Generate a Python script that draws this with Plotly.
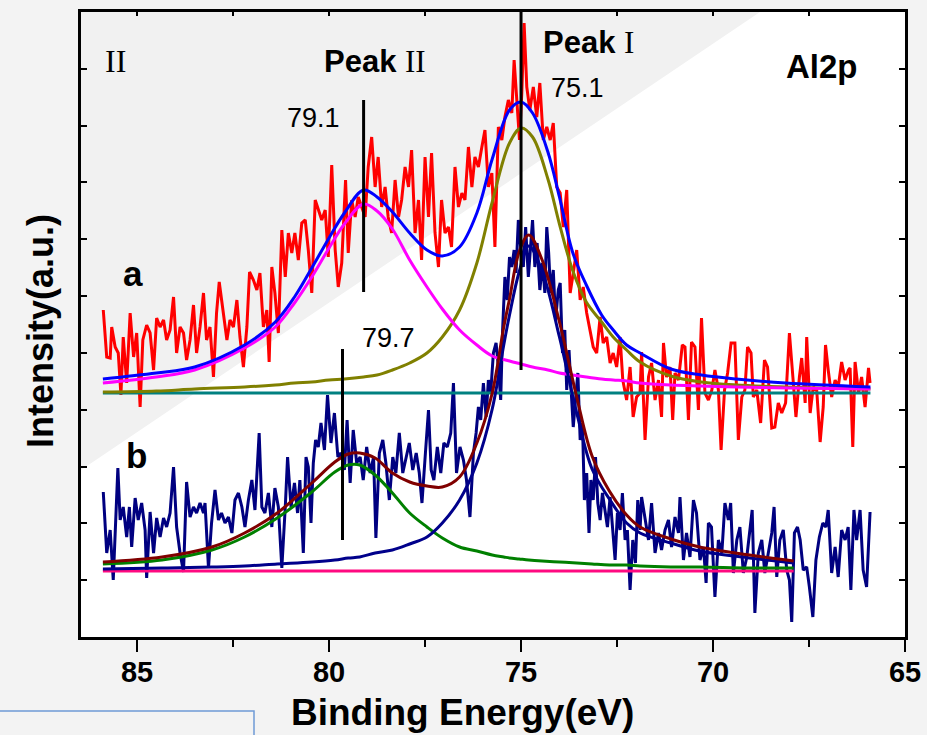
import plotly.graph_objects as go

# ---------------- data (binding energy in eV, intensity in arbitrary units) ----------------
# spectrum a (red raw data)
a_energy = [85.88, 85.79, 85.70, 85.66, 85.57, 85.49, 85.42, 85.36, 85.27, 85.18, 85.09, 85.01, 84.92, 84.85, 84.75,
            84.66, 84.57, 84.49, 84.40, 84.31, 84.23, 84.14, 84.05, 83.97, 83.88, 83.79, 83.71, 83.62, 83.53, 83.45,
            83.36, 83.27, 83.19, 83.10, 83.01, 82.93, 82.86, 82.75, 82.66, 82.58, 82.49, 82.40, 82.32, 82.23, 82.14,
            82.07, 81.97, 81.88, 81.80, 81.71, 81.62, 81.56, 81.49, 81.41, 81.32, 81.23, 81.14, 81.06, 80.97, 80.89,
            80.80, 80.71, 80.62, 80.54, 80.45, 80.36, 80.28, 80.19, 80.10, 80.02, 79.93, 79.84, 79.76, 79.67, 79.57,
            79.50, 79.41, 79.32, 79.24, 79.15, 79.06,
            78.98, 78.89, 78.80, 78.72, 78.63, 78.54, 78.46, 78.37, 78.28, 78.19, 78.11, 78.02, 77.93, 77.85, 77.76,
            77.67, 77.59, 77.50, 77.41, 77.33, 77.24, 77.15, 77.07, 76.98, 76.89, 76.81, 76.72, 76.63, 76.54, 76.46,
            76.37, 76.28, 76.20, 76.11, 76.02, 75.94, 75.85, 75.76, 75.68, 75.59, 75.50, 75.42, 75.33, 75.24, 75.18,
            75.11, 75.04, 74.98, 74.92, 74.85, 74.77, 74.68, 74.59, 74.51, 74.42, 74.33, 74.24, 74.16, 74.07, 73.98,
            73.90, 73.81, 73.72, 73.64, 73.55, 73.46, 73.38, 73.29, 73.20, 73.12, 73.03, 72.94, 72.86, 72.77, 72.68,
            72.60, 72.51, 72.42, 72.35, 72.25, 72.16, 72.08, 71.99, 71.90,
            71.86, 71.77, 71.68, 71.60, 71.51, 71.42, 71.34, 71.29, 71.21, 71.12, 71.05, 70.99, 70.90, 70.80, 70.73,
            70.64, 70.56, 70.47, 70.38, 70.30, 70.21, 70.12, 70.03, 69.95, 69.86, 69.79, 69.70, 69.62, 69.53, 69.43,
            69.34, 69.25, 69.17, 69.10, 69.01, 68.95, 68.86, 68.76, 68.66, 68.58, 68.47, 68.39, 68.30, 68.21, 68.11,
            68.01, 67.92, 67.84, 67.75, 67.69, 67.60, 67.56, 67.47, 67.39, 67.30, 67.21, 67.13, 67.07, 67.00, 66.91,
            66.82, 66.74, 66.65, 66.56, 66.47, 66.43, 66.36, 66.30, 66.21, 66.13, 66.04, 65.95, 65.91]
a_counts = [327, 280, 279, 310, 290, 284, 242, 300, 254, 324, 280, 304, 230, 297, 312,
            304, 267, 319, 310, 317, 297, 307, 340, 284, 310, 304, 277, 297, 332, 284,
            310, 344, 297, 310, 260, 324, 355, 324, 297, 317, 310, 337, 300, 270, 310,
            365, 357, 347, 364, 310, 327, 275, 370, 344, 304, 407, 360, 404, 384, 404,
            377, 414, 417, 387, 344, 437, 427, 417, 427, 380, 472, 387, 350, 374, 457,
            384, 437, 420, 440, 430, 420,
            470, 500, 450, 480, 430, 450, 420, 404, 457, 420, 437, 470, 450, 487, 404,
            437, 377, 480, 420, 484, 404, 370, 437, 404, 410, 390, 470, 430, 444, 437,
            490, 450, 480, 470, 490, 507, 450, 464, 390, 510, 497, 520, 537, 524, 577,
            537, 497, 544, 614, 550, 527, 550, 520, 554, 497, 510, 497, 514, 450, 444,
            410, 447, 344, 364, 387, 337, 350, 324, 304, 290, 284, 320, 294, 300, 274,
            284, 270, 300, 257, 237, 270, 220, 240, 244,
            285, 197, 260, 274, 237, 257, 220, 294, 260, 270, 217, 264, 257, 292, 290,
            217, 295, 290, 227, 319, 244, 237, 247, 267, 247, 187, 247, 264, 294, 294,
            197, 240, 247, 290, 284, 240, 247, 214, 277, 270, 209, 210, 234, 224, 234,
            304, 260, 220, 260, 279, 234, 300, 224, 250, 247, 195, 230, 292, 267, 240,
            257, 250, 275, 257, 267, 269, 190, 275, 244, 260, 230, 269, 254]

# spectrum b (navy raw data)
b_energy = [85.88, 85.79, 85.70, 85.62, 85.50, 85.44, 85.36, 85.27, 85.20, 85.14, 85.05, 84.97, 84.88, 84.79, 84.75,
            84.66, 84.57, 84.49, 84.40, 84.31, 84.23, 84.14, 84.05, 83.97, 83.88, 83.79, 83.71, 83.62, 83.53, 83.45,
            83.36, 83.27, 83.23, 83.14, 83.06, 82.97, 82.88, 82.80, 82.71, 82.62, 82.53, 82.45, 82.36, 82.27, 82.19,
            82.10, 82.01, 81.93, 81.82, 81.75, 81.67, 81.58, 81.49, 81.41, 81.32, 81.23, 81.14, 81.08, 80.99, 80.90,
            80.82, 80.76, 80.67, 80.60, 80.54, 80.47, 80.41, 80.35, 80.28, 80.21, 80.12, 80.04, 79.95, 79.86, 79.77,
            79.69, 79.60, 79.53, 79.45, 79.37, 79.28, 79.19, 79.11, 79.02, 78.93, 78.84,
            78.78, 78.69, 78.60, 78.52, 78.43, 78.34, 78.26, 78.17, 78.08, 77.99, 77.91, 77.82, 77.73, 77.65, 77.58,
            77.49, 77.41, 77.34, 77.27, 77.18, 77.09, 77.01, 76.92, 76.83, 76.76, 76.68, 76.59, 76.50, 76.42, 76.33,
            76.24, 76.17, 76.11, 76.05, 75.98, 75.91, 75.85, 75.79, 75.72, 75.65, 75.59, 75.53, 75.48, 75.42, 75.36,
            75.30, 75.24, 75.18, 75.13, 75.07, 75.01, 74.94, 74.88, 74.81, 74.75, 74.70, 74.64, 74.58, 74.51, 74.44,
            74.38, 74.33, 74.28, 74.23, 74.16, 74.10, 74.03, 73.98, 73.92, 73.86, 73.81, 73.75, 73.70, 73.64, 73.58,
            73.52, 73.46, 73.40, 73.35, 73.29, 73.23, 73.18, 73.12, 73.06, 73.00, 72.94, 72.88, 72.81, 72.75, 72.68,
            72.61, 72.55, 72.49, 72.42, 72.36, 72.29, 72.23, 72.16, 72.09, 72.02, 71.96, 71.90,
            71.86, 71.77, 71.68, 71.60, 71.51, 71.42, 71.34, 71.25, 71.16, 71.08, 70.99, 70.90, 70.86, 70.77, 70.69,
            70.60, 70.51, 70.43, 70.34, 70.25, 70.18, 70.12, 70.04, 69.95, 69.86, 69.77, 69.69, 69.60, 69.54, 69.47,
            69.38, 69.30, 69.21, 69.12, 69.04, 68.98, 68.91, 68.82, 68.73, 68.65, 68.56, 68.47, 68.41, 68.34, 68.26,
            68.17, 68.08, 68.01, 67.95, 67.88, 67.80, 67.73, 67.65, 67.56, 67.49, 67.40, 67.32, 67.23, 67.14, 67.06,
            67.00, 66.91, 66.82, 66.74, 66.65, 66.56, 66.48, 66.41, 66.33, 66.26, 66.17, 66.09, 66.00, 65.91]
b_counts = [145, 84, 107, 57, 169, 117, 130, 100, 130, 90, 139, 117, 134, 107, 59,
            125, 84, 119, 100, 119, 110, 124, 170, 110, 84, 65, 155, 120, 130, 124,
            134, 124, 134, 69, 114, 147, 117, 124, 114, 120, 104, 137, 144, 130, 110,
            137, 157, 127, 204, 130, 124, 144, 110, 149, 130, 69, 130, 180, 130, 154,
            124, 157, 84, 180, 170, 114, 174, 197, 190, 214, 187, 242, 194, 224, 180,
            184, 167, 217, 154, 207, 174, 180, 157, 190, 164, 180,
            99, 184, 197, 174, 137, 180, 164, 204, 164, 180, 194, 167, 184, 164, 134,
            184, 227, 167, 157, 190, 164, 194, 190, 204, 254, 164, 190, 177, 157, 120,
            184, 204, 230, 217, 254, 220, 257, 244, 284, 294, 270, 237, 307, 360, 337,
            380, 370, 387, 364, 417, 390, 370, 410, 360, 394, 417, 370, 394, 347, 374,
            344, 410, 384, 344, 367, 317, 347, 354, 284, 307, 247, 287, 250, 210, 237,
            264, 197, 214, 137, 164, 104, 157, 137, 180, 134, 117, 144, 124, 110, 140,
            107, 77, 124, 107, 144, 97, 107, 47, 97, 74, 137, 107,
            140, 120, 97, 134, 84, 104, 87, 107, 117, 90, 120, 104, 140, 77, 104,
            80, 137, 124, 77, 90, 54, 114, 110, 40, 97, 84, 134, 117, 134, 64,
            97, 110, 64, 80, 104, 127, 24, 84, 97, 64, 84, 104, 130, 60, 97,
            107, 67, 57, 15, 104, 110, 97, 67, 70, 50, 20, 77, 100, 114, 110,
            127, 64, 90, 60, 107, 97, 110, 47, 127, 97, 127, 67, 50, 125]

# fitted components of spectrum a
fit_a_energy = [85.89, 84.5, 83.5, 82.2, 81.4, 80.9, 80.45, 80.0, 79.6, 79.1, 78.75, 78.35, 77.9, 77.45, 77.05,
                76.6, 76.15, 75.75, 75.3, 75.0, 74.7, 74.3, 74.0, 73.65, 73.3, 72.9, 72.6, 72.25, 71.9, 71.1,
                70.3, 69.4, 68.1, 65.9]
a_peak2 = [254, 260, 267, 289, 310, 334, 360, 389, 413, 433, 426, 408, 377, 350, 328,
           307, 292, 281, 276, 273, 270, 267, 264, 262, 260, 258, 257, 256, 254, 252,
           251, 250, 249, 248]
a_peak1 = [245, 246, 248, 250, 252, 254, 255, 257, 258, 260, 262, 267, 274, 284, 300,
           327, 374, 435, 494, 509, 500, 458, 413, 366, 335, 315, 300, 287, 275, 261,
           255, 252, 250, 248]
a_envelope = [258, 264, 270, 292, 315, 340, 369, 399, 424, 447, 440, 425, 404, 387, 381,
              390, 424, 478, 527, 535, 524, 485, 440, 384, 352, 322, 307, 292, 284, 268,
              262, 258, 254, 250]
a_baseline_energy = [85.89, 65.9]
a_baseline = [244, 244]

# fitted components of spectrum b
fit_b_energy = [85.89, 84.35, 83.05, 82.2, 81.35, 80.45, 79.85, 79.5, 79.2, 78.8, 78.35, 77.9, 77.45, 77.05, 76.6,
                76.15, 75.75, 75.45, 75.3, 75.05, 74.8, 74.45, 74.0, 73.55, 73.15, 72.7, 72.25, 71.9, 71.1, 70.35,
                69.05, 67.9]
b_peak2 = [73, 77, 87, 100, 119, 145, 165, 172, 172, 162, 144, 124, 110, 99, 90,
           86, 82, 80, 79, 78, 77, 76, 75, 74, 73, 72, 72, 71, 70, 70,
           69, 69]
b_peak1 = [68, 69, 70, 71, 73, 75, 77, 79, 80, 84, 87, 93, 100, 114, 137,
           174, 228, 292, 322, 365, 391, 366, 300, 224, 168, 138, 114, 104, 94, 86,
           79, 74]
b_envelope = [75, 80, 90, 104, 124, 154, 175, 183, 184, 179, 164, 155, 151, 150, 160,
              194, 244, 310, 338, 385, 402, 377, 315, 240, 181, 146, 122, 110, 98, 90,
              82, 76]
b_baseline_energy = [85.89, 67.9]
b_baseline = [66, 66]

# peak position markers: energy, bottom, top
marker_energy = [79.1, 75.0, 79.65]
marker_low = [345, 267, 97]
marker_high = [537, 625, 288]

x_ticks = [85, 80, 75, 70, 65]
x_minor = [82.5, 77.5, 72.5, 67.5]

# ---------------- figure ----------------
SANS = "Liberation Sans, Arial, sans-serif"
SERIF = "Liberation Serif, Times New Roman, serif"
LW = 3.0

fig = go.Figure()


def line(x, y, color, width=LW, shape="linear"):
    fig.add_trace(go.Scatter(x=x, y=y, mode="lines", line=dict(color=color, width=width, shape=shape),
                             showlegend=False, hoverinfo="skip"))


line(a_energy, a_counts, "#ff0000")
line(b_energy, b_counts, "#000080")
line(a_baseline_energy, a_baseline, "#008080")
line(fit_a_energy, a_peak1, "#808000", shape="spline")
line(fit_a_energy, a_peak2, "#ff00ff", shape="spline")
line(fit_a_energy, a_envelope, "#0000ff", shape="spline")
line(b_baseline_energy, b_baseline, "#ff0a80")
line(fit_b_energy, b_peak2, "#008000", shape="spline")
line(fit_b_energy, b_peak1, "#00008b", shape="spline")
line(fit_b_energy, b_envelope, "#800000", shape="spline")

mx, my = [], []
for e, lo, hi in zip(marker_energy, marker_low, marker_high):
    mx += [e, e, None]
    my += [lo, hi, None]
fig.add_trace(go.Scatter(x=mx, y=my, mode="lines", line=dict(color="black", width=LW),
                         showlegend=False, hoverinfo="skip", cliponaxis=False))

# invisible trace for top axis
fig.add_trace(go.Scatter(x=[75], y=[300], xaxis="x2", mode="markers", marker=dict(opacity=0),
                         showlegend=False, hoverinfo="skip"))

X0, X1 = 81, 905
Y0, Y1 = 637, 12


def px(x):
    return (x - X0) / (X1 - X0)


def py(y):
    return (Y0 - y) / (Y0 - Y1)


def txt(text, x, y, size, bold=False, family=SANS, angle=0):
    fig.add_annotation(text=text, x=px(x), y=py(y), xref="paper", yref="paper", showarrow=False,
                       xanchor="center", yanchor="middle", textangle=angle,
                       font=dict(family=family, size=size, color="black", weight="bold" if bold else "normal"))


txt("II", 115, 61, 32, family=SERIF)
txt("<b>Peak</b> <span style='font-family:Liberation Serif'>II</span>", 375, 62, 31)
txt("<b>Peak</b> <span style='font-family:Liberation Serif'>I</span>", 588, 42, 31)
txt("79.1", 313, 118, 27)
txt("75.1", 577, 88, 27)
txt("79.7", 388, 338, 27)
txt("Al2p", 822, 66, 33, bold=True)
txt("a", 133, 273, 35, bold=True)
txt("b", 136, 456, 35, bold=True)
txt("Binding Energy(eV)", 462, 712, 37, bold=True)
txt("Intensity(a.u.)", 40, 331, 36, bold=True, angle=-90)

# decorative background shapes (slide background)
fig.add_shape(type="path", xref="paper", yref="paper", layer="below",
              path=f"M {px(81)},{py(12)} L {px(760)},{py(12)} L {px(81)},{py(470)} Z",
              fillcolor="#f1f1f1", line=dict(width=0))
fig.add_shape(type="rect", xref="paper", yref="paper", x0=px(-5), x1=px(254), y0=py(745), y1=py(711),
              line=dict(color="#6f9ad6", width=1.5), fillcolor="rgba(0,0,0,0)")

axis_font = dict(family=SANS, size=29, color="black", weight="bold")
fig.update_layout(
    width=927, height=735, autosize=False,
    margin=dict(l=X0, r=927 - X1, t=Y1, b=735 - Y0),
    paper_bgcolor="#f3f3f3", plot_bgcolor="white",
    xaxis=dict(range=[86.46, 65], tickmode="array", tickvals=x_ticks, ticktext=[str(v) for v in x_ticks],
               ticks="outside", ticklen=12, tickwidth=2.2, tickcolor="black", ticklabelstandoff=-5,
               minor=dict(tickmode="array", tickvals=x_minor, ticks="outside", ticklen=7, tickwidth=2.2,
                          tickcolor="black"),
               showline=True, linewidth=2.8, linecolor="black", mirror=True,
               showgrid=False, zeroline=False, tickfont=axis_font, automargin=False),
    xaxis2=dict(range=[86.46, 65], overlaying="x", side="top", tickmode="array",
                tickvals=x_ticks + x_minor, ticks="inside", ticklen=4, tickwidth=1.5, tickcolor="black",
                showticklabels=False, showline=False, showgrid=False, zeroline=False),
    yaxis=dict(range=[0, 625], tick0=0, dtick=625 / 11, ticks="inside", ticklen=6, tickwidth=1.5,
               tickcolor="black", showticklabels=False, showline=True, linewidth=2.8, linecolor="black",
               mirror="ticks", showgrid=False, zeroline=False, automargin=False),
)

fig.write_html("out.html")
